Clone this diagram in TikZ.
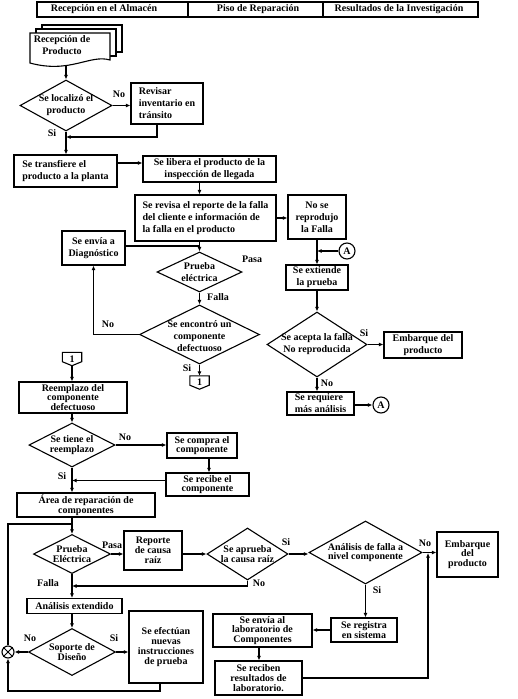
\documentclass[tikz,border=0pt]{standalone}
\usepackage{fontspec}
\setmainfont{Liberation Serif}
\usetikzlibrary{shapes.geometric,arrows.meta}
\newcommand\fs{\fontsize{10}{12}\selectfont\bfseries}
\newcommand\fst{\fontsize{10}{9.8}\selectfont\bfseries}
\begin{document}
\begin{tikzpicture}[x=1pt,y=-1pt,
  ln/.style={line width=1.1pt},
  box/.style={draw, line width=1.1pt, inner sep=1pt, align=center, font=\fs},
  tbox/.style={box, font=\fst},
  dia/.style={draw, diamond, line width=1.1pt, inner sep=0pt, aspect=1},
  arr/.style={line width=1.1pt, -{Latex[length=4.5pt,width=4pt]}},
  lbl/.style={font=\fs, inner sep=0pt, align=center},
  tlbl/.style={font=\fst, inner sep=0pt, align=center},
  hcell/.style={draw, line width=1.1pt, minimum height=15pt, inner sep=0pt},
  conn/.style={inner sep=0pt, minimum width=19pt, minimum height=13pt, font=\fs}]
\fill[white] (0,0) rectangle (518,699);
\useasboundingbox (0,0) rectangle (518,699);

% header
\node[hcell, minimum width=151pt] (h1) at (112.5,9.5) {};
\node[hcell, minimum width=135pt] (h2) at (255.5,9.5) {};
\node[hcell, minimum width=155pt] (h3) at (400.5,9.5) {};
\node[lbl] (h1t) at (104,9.5) {Recepción en el Almacén};
\node[lbl] (h2t) at (258,9.5) {Piso de Reparación};
\node[lbl] (h3t) at (399,9.5) {Resultados de la Investigación};

% multi-document
\draw[ln, fill=white] (42,25) rectangle (122,52);
\draw[ln, fill=white] (36,29) rectangle (116,56);
\draw[ln, fill=white] (30,33) -- (110,33) -- (110,60) .. controls (90,54) and (70,74) .. (30,63) -- cycle;
\node[lbl] (doc) at (62,45) {Recepción de\\Producto};
\coordinate (docout) at (66,65.5);

% upper nodes
\node[dia, minimum width=92pt, minimum height=51pt] (loc) at (66,105.5) {};
\node[lbl] (locT) at (loc.center) {Se localizó el\\producto};
\node[box, align=left, minimum width=72pt, minimum height=41pt] (revisar) at (167,103.5) {Revisar\\inventario en\\tránsito};
\node[box, align=left, minimum width=103pt, minimum height=32pt] (transf) at (65.5,171) {Se transfiere el\\producto a la planta};
\node[box, minimum width=133pt, minimum height=26pt] (libera) at (209.5,169) {Se libera el producto de la\\inspección de llegada};
\node[box, align=left, minimum width=141pt, minimum height=46pt] (revisa) at (205.5,218) {Se revisa el reporte de la falla\\del cliente e información de\\la falla en el producto};
\node[box, minimum width=58pt, minimum height=44pt] (noreprod) at (317,217) {No se\\reprodujo\\la Falla};
\node[draw, circle, ln, minimum size=16pt, inner sep=0pt, font=\fs] (A1) at (347,251) {A};
\node[box, minimum width=62pt, minimum height=25pt] (extiende) at (317,277.5) {Se extiende\\la prueba};
\node[dia, minimum width=100pt, minimum height=65pt] (acepta) at (317,344.5) {};
\node[lbl] (aceptaT) at (acepta.center) {Se acepta la falla\\No reproducida};
\node[box, minimum width=78pt, minimum height=26pt] (emb1) at (423,345) {Embarque del\\producto};
\node[box, align=left, minimum width=67pt, minimum height=23pt] (requiere) at (320.5,403.5) {Se requiere\\más análisis};
\node[draw, circle, ln, minimum size=16pt, inner sep=0pt, font=\fs] (A2) at (381,405) {A};

\node[box, minimum width=63pt, minimum height=34pt] (diag) at (93.5,248) {Se envía a\\Diagnóstico};
\node[dia, minimum width=85pt, minimum height=40pt] (prueba) at (199.5,272) {};
\node[lbl] (pruebaT) at (prueba.center) {Prueba\\eléctrica};
\node[dia, minimum width=120pt, minimum height=59pt] (encontro) at (199.5,334.5) {};
\node[lbl] (encontroT) at (199.5,336) {Se encontró un\\componente\\defectuoso};
\node[conn] (off1a) at (199.5,382.5) {1};
\draw[ln] (off1a.north west) -- (off1a.north east) -- ([yshift=4pt]off1a.south east) -- (off1a.south) -- ([yshift=4pt]off1a.south west) -- cycle;
\node[conn] (off1b) at (72,359) {1};
\draw[ln] (off1b.north west) -- (off1b.north east) -- ([yshift=4pt]off1b.south east) -- (off1b.south) -- ([yshift=4pt]off1b.south west) -- cycle;

% lower nodes
\coordinate (cL) at (72,0);
\node[tbox, minimum width=108pt, minimum height=31pt] (reemplazo) at (73,397.5) {Reemplazo del\\componente\\defectuoso};
\node[dia, minimum width=86pt, minimum height=44pt] (tiene) at (72,445) {};
\node[tlbl] (tieneT) at (tiene.center) {Se tiene el\\reemplazo};
\node[tbox, minimum width=70pt, minimum height=25pt] (compra) at (202,445.5) {Se compra el\\componente};
\node[tbox, minimum width=83pt, minimum height=23pt] (recibe) at (207.5,484.5) {Se recibe el\\componente};
\node[tbox, minimum width=138pt, minimum height=24pt] (area) at (86,505) {Área de reparación de\\componentes};

\node[dia, minimum width=77pt, minimum height=39pt] (prueba2) at (72,554) {};
\node[tlbl] (prueba2T) at (prueba2.center) {Prueba\\Eléctrica};
\node[tbox, minimum width=58pt, minimum height=39pt] (reporte) at (153,550.5) {Reporte\\de causa\\raíz};
\node[dia, minimum width=81pt, minimum height=52pt] (aprueba) at (247.5,554) {};
\node[tlbl] (apruebaT) at (aprueba.center) {Se aprueba\\la causa raíz};
\node[dia, minimum width=113pt, minimum height=63pt] (analisis) at (365.5,552.5) {};
\node[tlbl] (analisisT) at (analisis.center) {Análisis de falla a\\nivel componente};
\node[tbox, minimum width=61pt, minimum height=45pt] (emb2) at (467.5,554.5) {Embarque\\del\\producto};
\node[tbox, minimum width=95pt, minimum height=15pt] (ext) at (74.5,606) {Análisis extendido};
\node[dia, minimum width=87pt, minimum height=47pt] (soporte) at (72,652) {};
\node[tlbl] (soporteT) at (soporte.center) {Soporte de\\Diseño};
\node[draw, circle, ln, minimum size=12pt, inner sep=0pt] (circX) at (8,652) {};
\draw[line width=0.8pt] (circX.45) -- (circX.225) (circX.135) -- (circX.315);
\node[tbox, minimum width=74pt, minimum height=72pt] (efect) at (166,647) {Se efectúan\\nuevas\\instrucciones\\de prueba};
\node[tbox, minimum width=66pt, minimum height=24pt] (registra) at (364,630) {Se registra\\en sistema};
\node[tbox, minimum width=99pt, minimum height=33pt] (envia) at (262.5,630.5) {Se envía al\\laboratorio de\\Componentes};
\node[tbox, minimum width=87pt, minimum height=34pt] (reciben) at (258.5,678) {Se reciben\\resultados de\\laboratorio.};

% connectors upper
\draw[arr] (docout) -- (loc.north);
\draw[arr] (loc.east) -- (loc.east -| revisar.west);
\coordinate (j1) at (66,137);
\draw[arr] ([xshift=-10pt]revisar.south) |- (j1);
\draw[arr] (loc.south) -- (loc.south |- transf.north);
\coordinate (t4) at (117,163);
\draw[arr] (t4) -- (t4 -| libera.west);
\coordinate (c5) at (199.5,0);
\draw[arr] (c5 |- libera.south) -- (c5 |- revisa.north);
\draw[arr] (revisa.east) -- (revisa.east -| noreprod.west);
\draw[arr] (noreprod.south) -- (extiende.north);
\draw[arr] (A1.west) -- (A1.west -| noreprod.south);
\draw[arr] (extiende.south) -- (acepta.north);
\draw[arr] (acepta.east) -- (acepta.east -| emb1.west);
\draw[arr] (acepta.south) -- (acepta.south |- requiere.north);
\draw[arr] (A2.west -| requiere.east) -- (A2.west);
\draw[arr] (c5 |- revisa.south) -- (prueba.north);
\draw[ln] ([yshift=2pt]diag.east) -- ([yshift=2pt]diag.east -| c5);
\draw[arr] (prueba.south) -- (encontro.north);
\draw[arr] (encontro.west) -| (diag.south);
\draw[arr] (encontro.south) -- (off1a.north);

% connectors lower
\draw[arr] (off1b.south) -- (cL |- reemplazo.north);
\draw[arr] (cL |- reemplazo.south) -- (tiene.north);
\draw[arr] (tiene.east) -- (tiene.east -| compra.west);
\coordinate (cC) at (209,0);
\draw[arr] (cC |- compra.south) -- (cC |- recibe.north);
\coordinate (t22) at ([yshift=4pt]recibe.west);
\draw[arr] (t22) -- (t22 -| cL);
\draw[arr] (tiene.south) -- (cL |- area.north);
\draw[arr] (cL |- area.south) -- (prueba2.north);
\coordinate (j2) at (72,524);
\draw[ln] (circX.north) |- (j2);
\draw[arr] (prueba2.east) -- (prueba2.east -| reporte.west);
\draw[arr] (aprueba.west -| reporte.east) -- (aprueba.west);
\draw[arr] (aprueba.east) -- (aprueba.east -| analisis.west);
\coordinate (j3) at (72,586);
\draw[arr] (aprueba.south) |- (j3);
\draw[arr] (prueba2.south) -- (cL |- ext.north);
\draw[arr] (cL |- ext.south) -- (soporte.north);
\draw[arr] (soporte.west) -- (circX.east);
\draw[arr] (soporte.east) -- (soporte.east -| efect.west);
\coordinate (j4) at (8,691);
\draw[arr] ([xshift=-6pt]efect.south) |- (j4) -- (circX.south);
\draw[arr] (analisis.east) -- (analisis.east -| emb2.west);
\draw[arr] (analisis.south) -- (analisis.south |- registra.north);
\draw[arr] (registra.west) -- (registra.west -| envia.east);
\coordinate (cE) at (259,0);
\draw[arr] (cE |- envia.south) -- (cE |- reciben.north);
\coordinate (j5) at (428,553);
\draw[arr] (reciben.east) -| (j5);

% labels
\node[lbl] (l1) at (119,94) {No};
\node[lbl] (l2) at (52,133) {Si};
\node[lbl] (l3) at (252,259) {Pasa};
\node[lbl] (l4) at (218,297) {Falla};
\node[lbl] (l5) at (108,324) {No};
\node[lbl] (l6) at (187,368) {Si};
\node[lbl] (l7) at (364,333) {Si};
\node[lbl] (l8) at (327,383) {No};
\node[lbl] (l9) at (125,437) {No};
\node[lbl] (l10) at (62,476) {Si};
\node[lbl] (l11) at (112,545) {Pasa};
\node[lbl] (l12) at (286,542) {Si};
\node[lbl] (l13) at (259,583) {No};
\node[lbl] (l14) at (48,583) {Falla};
\node[lbl] (l15) at (30,638) {No};
\node[lbl] (l16) at (114,638) {Si};
\node[lbl] (l17) at (425,543) {No};
\node[lbl] (l18) at (377,590) {Si};
\end{tikzpicture}
\end{document}
